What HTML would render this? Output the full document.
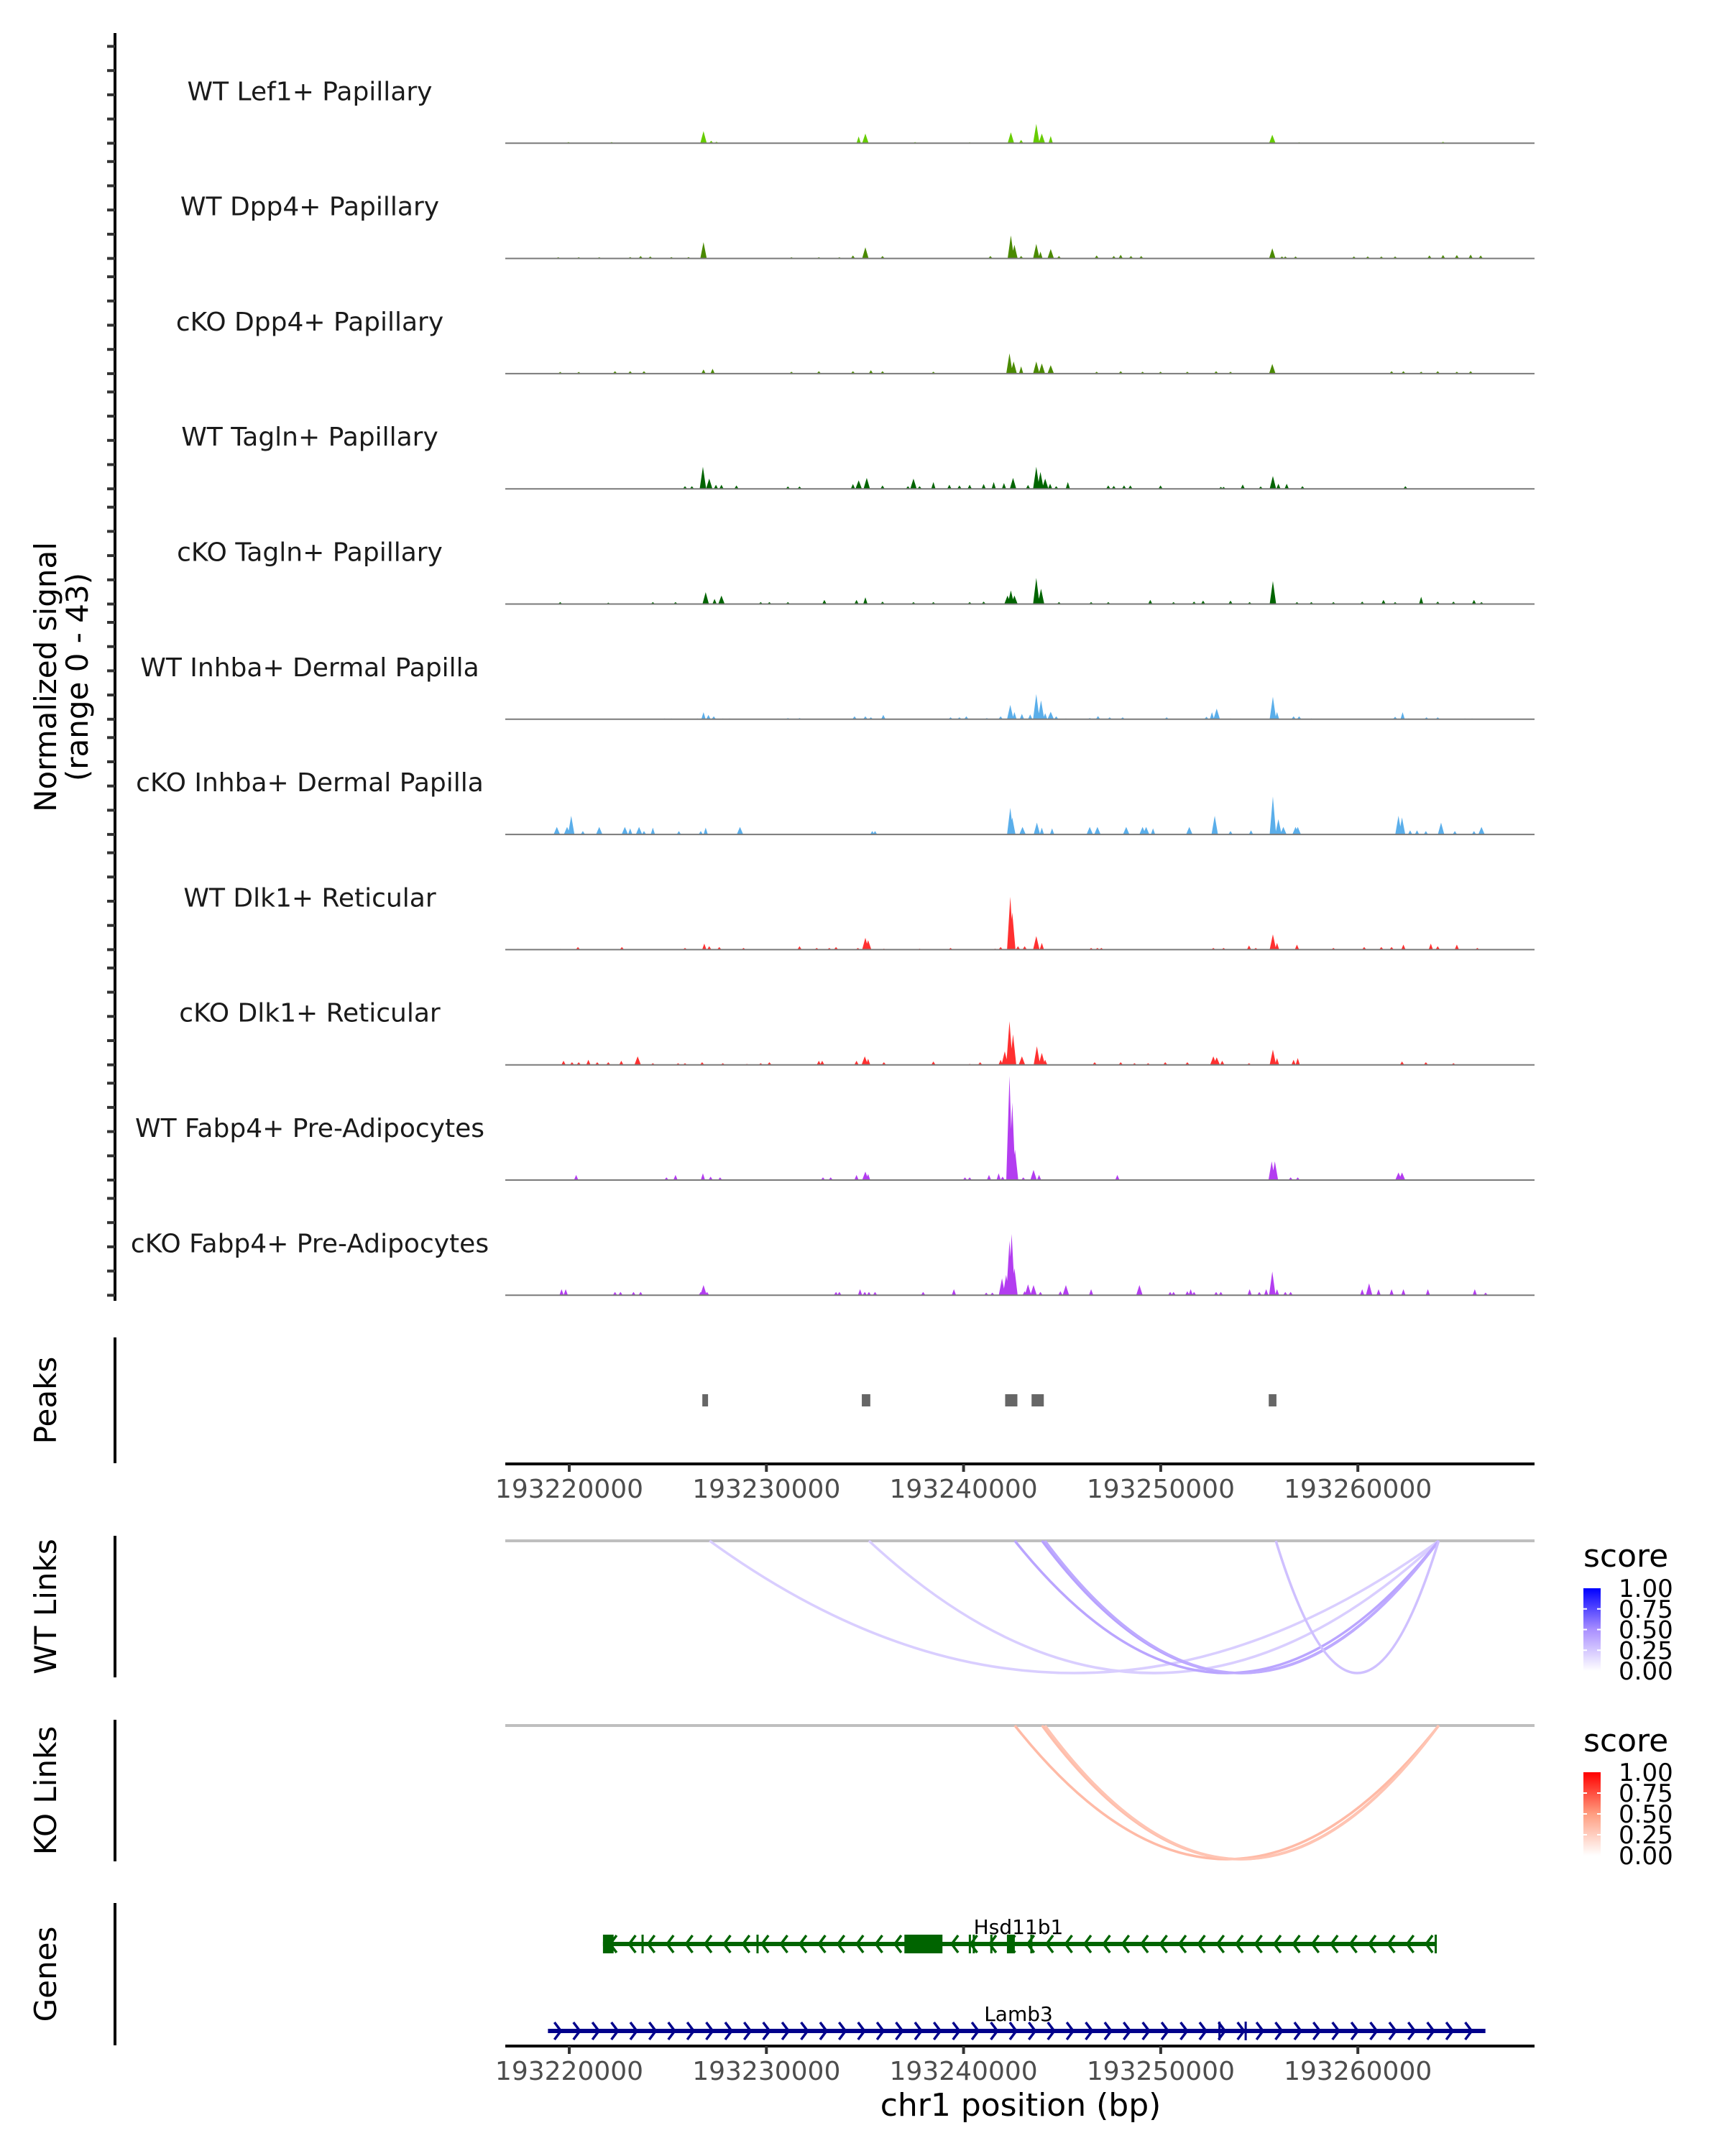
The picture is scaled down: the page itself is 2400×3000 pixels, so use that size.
<!DOCTYPE html>
<html><head><meta charset="utf-8">
<style>
html,body{margin:0;padding:0;background:#fff;}
svg{display:block;font-family:"DejaVu Sans","Liberation Sans",sans-serif;}
</style></head>
<body>
<svg id="chart" xmlns="http://www.w3.org/2000/svg" width="2400" height="3000" viewBox="0 0 2400 3000">
<rect x="0" y="0" width="2400" height="3000" fill="#fff"/>
<g id="tracks"></g>
<g id="axes"></g>
<g id="peaks"></g>
<g id="links"></g>
<g id="genes"></g>
<g id="legend"></g>
</svg>
<script>
// ---- data (positions in kb offset from 193220000, heights in normalized signal units) ----
const trackNames = ["WT Lef1+ Papillary","WT Dpp4+ Papillary","cKO Dpp4+ Papillary","WT Tagln+ Papillary","cKO Tagln+ Papillary","WT Inhba+ Dermal Papilla","cKO Inhba+ Dermal Papilla","WT Dlk1+ Reticular","cKO Dlk1+ Reticular","WT Fabp4+ Pre-Adipocytes","cKO Fabp4+ Pre-Adipocytes"];
const trackColors = ["#66cc00","#4a8a00","#4a8a00","#006400","#006400","#5aaeea","#5aaeea","#ff3030","#ff3030","#b33df0","#b33df0"];
const sigLef1 = [[6.81,5],[7.2,1],[7.47,0.6],[14.68,2.8],[15.02,4],[22.4,4.5],[22.92,1.4],[23.69,8],[23.97,4],[24.42,3],[35.66,3.5],[-0.04,0.5],[2.15,0.5],[17.54,0.5],[20.31,0.4],[37.02,0.4],[44.32,0.6]];
const sigDpp4WT = [[6.81,6.7],[15.02,4.6],[22.4,9.5],[22.58,5.6],[23.69,6],[23.9,2.8],[24.42,3.9],[35.66,4.2],[36.32,0.8],[-0.56,0.5],[0.48,0.5],[1.52,0.5],[3.09,0.6],[3.62,1],[4.11,0.8],[5.18,0.6],[6.05,0.6],[11.27,0.5],[12.66,0.5],[13.7,0.5],[14.39,1.2],[15.89,1],[21.36,1],[22.92,1],[24.84,1],[26.75,1.2],[27.62,1],[27.97,1.5],[28.49,1],[29.01,1],[36.15,0.8],[36.84,0.8],[39.8,0.8],[40.5,0.8],[41.19,0.8],[41.89,0.8],[43.63,1.2],[44.32,1.4],[45.02,1.4],[45.72,1.6],[46.23,1.2]];
const sigDpp4KO = [[22.33,8.4],[22.54,5],[22.92,3],[23.69,5],[23.97,4.2],[24.42,3.5],[35.66,4],[6.81,1.7],[7.27,2],[-0.46,0.7],[0.48,0.7],[2.32,1],[3.09,1],[3.79,1],[11.27,0.8],[12.66,1],[14.39,1],[15.3,1.4],[15.89,1],[18.47,0.8],[26.75,0.8],[27.97,1],[29.08,0.8],[29.99,0.8],[31.35,0.8],[32.81,1],[33.54,0.8],[41.71,1],[42.31,1],[43.21,0.8],[44.05,1],[45.02,0.8],[45.72,1]];
const sigTaglnWT = [[6.78,9.1],[7.1,4.2],[7.44,1.7],[7.72,1.7],[8.48,1.4],[5.87,1.1],[6.22,1.1],[11.09,1],[11.68,1],[14.39,2],[14.68,3.5],[15.09,4.5],[15.89,1.4],[17.18,1.1],[17.46,4.2],[17.77,1.1],[18.47,2.8],[19.28,1.7],[19.79,1.4],[20.31,1.7],[21.02,2],[21.53,2.8],[22.05,2.4],[22.51,4.5],[23.27,1.6],[23.69,9.1],[23.9,7],[24.14,4.2],[24.39,2.1],[24.7,1.1],[25.29,2.8],[27.34,1.4],[27.62,1.2],[28.14,1.4],[28.46,1.4],[29.99,1.4],[33.05,0.8],[33.19,0.8],[34.16,1.8],[35.07,1],[35.69,5.3],[35.97,2.1],[36.39,2.1],[37.19,1.1],[42.41,1.1]];
const sigTaglnKO = [[23.69,10.8],[23.93,6.3],[22.4,5.6],[22.23,3.5],[22.58,3.5],[35.69,9.5],[6.92,4.9],[7.72,3.5],[7.37,2.1],[15.02,2.8],[14.57,1.7],[12.94,1.7],[29.47,1.7],[32.15,1.4],[33.54,1.4],[41.3,1.7],[43.21,3],[45.89,1.7],[-0.46,0.8],[1.98,0.6],[4.24,0.8],[5.39,0.8],[9.71,0.8],[10.15,0.8],[11.09,0.8],[15.89,1],[17.46,0.8],[18.47,0.8],[20.31,0.8],[21.02,1],[24.84,0.8],[26.47,0.8],[27.34,0.8],[30.65,0.8],[31.69,1],[34.51,0.8],[36.91,0.8],[37.64,0.8],[38.76,0.8],[40.22,1],[41.89,0.8],[44.05,1],[44.85,1],[46.27,0.8]];
const sigInhbaWT = [[6.81,2.9],[7.06,1.8],[7.33,1.2],[4.83,0.3],[5.18,0.3],[6.5,0.3],[7.79,0.3],[8.13,0.3],[11.09,0.5],[11.68,0.5],[14.47,1.2],[15.02,1.2],[15.3,0.8],[15.93,1.8],[19.34,0.8],[19.79,0.8],[20.14,1.2],[21.18,0.5],[21.88,1.2],[22.37,5.9],[22.58,3],[22.96,2.2],[23.38,2],[23.69,10.4],[23.93,7.8],[24.14,2.5],[24.42,3.1],[24.7,1.2],[25.19,0.3],[26.4,0.5],[26.82,1.3],[27.41,0.8],[28.07,0.8],[30.3,0.8],[32.32,1],[32.6,2.9],[32.84,4.4],[33.54,0.3],[35.69,9.3],[35.9,3],[36.74,1.2],[37.02,1.2],[37.64,0.3],[41.89,1],[42.27,2.9],[42.58,0.3],[43.48,0.8],[44.05,0.8],[45.43,0.3],[45.79,0.3]];
const sigInhbaKO = [[-0.63,3.1],[-0.11,3.1],[0.1,7.7],[0.69,1.4],[1.52,3.1],[2.82,3.1],[3.09,2.5],[3.54,3.1],[3.79,1.4],[4.24,2.8],[5.56,1.4],[6.67,1.4],[6.92,2.8],[8.66,3.1],[15.37,1.4],[15.51,1.4],[22.37,11],[22.47,7],[22.99,3.1],[23.72,4.9],[23.97,2.8],[24.49,2.5],[26.4,3.1],[26.79,3.1],[28.25,3.1],[29.08,3.1],[29.26,3.1],[29.61,2.5],[31.45,3.1],[32.74,7.7],[33.54,1.4],[34.58,1.7],[35.69,15.7],[35.97,6.3],[36.22,3.1],[36.84,3.1],[36.95,3.1],[42.06,7.7],[42.24,7],[42.65,1.7],[43.0,1.7],[43.45,1.4],[44.22,4.9],[44.92,1.4],[45.89,1.4],[46.27,3.1]];
const sigDlk1WT = [[-0.46,0.3],[0.44,1.1],[2.67,1.1],[5.87,0.7],[6.85,2.5],[7.1,1.4],[7.61,1.1],[8.84,0.7],[11.68,1.4],[12.55,0.7],[13.19,0.7],[13.53,1.1],[14.64,0.7],[15.02,4.9],[15.16,3.9],[15.96,0.4],[17.77,0.4],[19.34,0.7],[21.6,0.4],[21.88,1.1],[22.37,21.8],[22.47,15.4],[22.76,1.4],[23.1,1.4],[23.69,5.6],[23.97,2.8],[26.47,0.7],[26.79,0.7],[26.99,0.7],[32.67,0.7],[33.19,0.7],[34.48,1.7],[34.82,0.7],[35.69,6.3],[35.9,2.8],[36.91,2.1],[38.76,0.7],[40.32,1.1],[41.19,1.1],[41.71,1.1],[42.31,2.1],[43.7,2.5],[44.05,1.4],[45.02,2.1],[46.06,0.7]];
const sigDlk1KO = [[-0.29,1.7],[0.14,1.1],[0.48,1.1],[0.97,2.1],[1.42,1.1],[1.98,1.1],[2.64,1.7],[3.47,3.5],[4.24,0.7],[5.52,0.7],[5.87,0.7],[6.74,1.1],[7.79,0.7],[9.01,0.4],[9.71,0.7],[10.15,1.1],[12.66,1.7],[12.83,1.7],[14.57,1.7],[14.99,3.5],[15.16,2.5],[15.96,1.1],[18.47,1.4],[20.31,0.4],[20.84,1.1],[21.88,2.1],[22.09,5.6],[22.33,18],[22.51,12.6],[22.96,3.5],[23.72,7.7],[23.97,4.9],[24.14,2.1],[26.65,1.1],[27.97,1.1],[28.67,0.7],[29.36,0.7],[30.23,1.1],[31.35,1.1],[32.67,3.5],[32.84,3.1],[33.12,1.7],[34.48,0.7],[35.69,6.3],[35.9,2.8],[36.74,2.1],[36.95,2.8],[42.24,1.4],[43.45,1.1],[44.85,0.7]];
const sigFabp4WT = [[0.35,2.1],[4.93,1.1],[5.39,2.1],[6.78,2.8],[7.17,1.4],[7.65,1.1],[12.87,1.1],[13.26,1.1],[14.57,2.1],[15.02,3.5],[15.16,2.5],[20.07,1.1],[20.31,1.1],[21.29,2.1],[21.78,2.8],[21.98,1.4],[22.33,43],[22.47,32],[22.61,12.6],[23.03,1.1],[23.55,4.2],[23.83,2.1],[27.8,2.1],[35.63,7.7],[35.79,7.7],[36.59,1.1],[36.95,1.1],[42.06,3.1],[42.24,3.1]];
const sigFabp4KO = [[-0.39,2.5],[-0.18,2.5],[2.32,1.4],[2.6,1.4],[3.26,1.4],[3.62,1.4],[6.67,1.4],[6.81,4.2],[6.99,1.4],[13.53,1.4],[13.7,1.4],[14.75,2.5],[14.99,1.4],[15.2,1.4],[15.51,1.4],[17.95,1.4],[19.51,2.5],[21.15,1.1],[21.46,1.1],[21.95,7],[22.16,8.4],[22.33,22.5],[22.44,25.3],[22.58,11.2],[23.1,1.7],[23.27,4.5],[23.55,4.2],[23.9,1.4],[24.91,1.7],[25.19,4.2],[26.47,2.5],[28.92,4.2],[30.48,1.4],[30.65,1.4],[31.35,1.7],[31.52,2.5],[31.69,1.4],[32.81,1.4],[33.05,1.4],[34.51,2.5],[35.0,1.4],[35.35,2.5],[35.66,9.8],[35.9,2.5],[36.32,1.4],[36.59,1.4],[40.22,2.5],[40.57,4.9],[41.05,2.5],[41.71,2.5],[42.31,2.5],[43.55,2.5],[45.93,2.5],[46.48,1.1]];
const trackSignals = [sigLef1,sigDpp4WT,sigDpp4KO,sigTaglnWT,sigTaglnKO,sigInhbaWT,sigInhbaKO,sigDlk1WT,sigDlk1KO,sigFabp4WT,sigFabp4KO];
const xTickValues = [193220000,193230000,193240000,193250000,193260000];
const yTickValues = [0,10,20,30,40];
const peakStarts = [6.75,14.84,22.11,23.45,35.48];
const peakEnds = [7.04,15.27,22.73,24.07,35.87];
const wtLinkStarts = [7.12,15.2,22.6,23.98,24.13,35.84];
const wtLinkEnds = [44.1,44.1,44.1,44.1,44.1,44.1];
const wtLinkScores = [0.22,0.22,0.4,0.42,0.38,0.28];
const koLinkStarts = [22.6,23.98,24.13];
const koLinkEnds = [44.1,44.1,44.1];
const koLinkScores = [0.35,0.33,0.3];
const legendTicks = ["1.00","0.75","0.50","0.25","0.00"];

// ---- scales ----
const ORIGIN = 193220000;
const X_LEFT = 703, X_RIGHT = 2135;
function xKb(kb){ return 792 + kb*27.43; }
function xBp(bp){ return xKb((bp-ORIGIN)/1000); }
function base(i){ return 199.3 + i*160.3; }
const UNIT = 3.37;
function yVal(i,v){ return base(i) - v*UNIT; }
const NS="http://www.w3.org/2000/svg";
function mk(tag, attrs, parent){ const e=document.createElementNS(NS,tag); for(const k in attrs) e.setAttribute(k,attrs[k]); parent.appendChild(e); return e; }
function lerpHex(a,b,t){ const pa=[1,3,5].map(j=>parseInt(a.substr(j,2),16)), pb=[1,3,5].map(j=>parseInt(b.substr(j,2),16)); return "rgb("+pa.map((v,k)=>Math.round(v+(pb[k]-v)*t)).join(",")+")"; }
function blueScale(s){ return s<0.5? lerpHex("#ffffff","#a98fff",s/0.5) : lerpHex("#a98fff","#0000ff",(s-0.5)/0.5); }
function redScale(s){ return s<0.5? lerpHex("#ffffff","#ff9d80",s/0.5) : lerpHex("#ff9d80","#ff0000",(s-0.5)/0.5); }

const gT=document.getElementById('tracks');
const gA=document.getElementById('axes');
// ---- signal tracks ----
trackNames.forEach((name,i)=>{
  const g=mk('g',{},gT);
  
  
  const lbl=mk('text',{x:431,y:base(i)-60,'font-size':36,'text-anchor':'middle',fill:'#1a1a1a'},g);
  lbl.textContent=name;
  
  
  const sig=trackSignals[i];
  let d='';
  sig.forEach(p=>{
    const x=xKb(p[0]); const hw=p[1]>3?4.5:3;
    d+='M'+(x-hw)+','+base(i)+'L'+x+','+yVal(i,p[1])+'L'+(x+hw)+','+base(i)+'Z';
  });
  const area=mk('path',{d:d,fill:trackColors[i]},g);
  
  
  const bl=mk('line',{x1:X_LEFT,x2:X_RIGHT,y1:base(i),y2:base(i),stroke:'#7a7a7a','stroke-width':2},g);
  
  
});
// left y axis
const ya=mk('line',{x1:160,x2:160,y1:46,y2:1810,stroke:'#000','stroke-width':4},gA);


for(let i=0;i<trackNames.length;i++){
  yTickValues.forEach(v=>{
    const t=mk('line',{x1:149,x2:160,y1:yVal(i,v),y2:yVal(i,v),stroke:'#333','stroke-width':4},gA);
    
    
  });
}
const yt=mk('text',{transform:'translate(86,942) rotate(-90)','font-size':42,'text-anchor':'middle',fill:'#000'},gA);


const ts1=mk('tspan',{x:0,dy:-8},yt); ts1.textContent='Normalized signal';
const ts2=mk('tspan',{x:0,dy:44},yt); ts2.textContent='(range 0 - 43)';

// panel axes & titles
const panels=[["Peaks",1861,2036],["WT Links",2137,2334],["KO Links",2393,2590],["Genes",2648,2846]];
panels.forEach(p=>{
  const l=mk('line',{x1:160,x2:160,y1:p[1],y2:p[2],stroke:'#000','stroke-width':4},gA);
  
  
  const c=(p[1]+p[2])/2;
  const t=mk('text',{transform:'translate(78,'+c+') rotate(-90)','font-size':42,'text-anchor':'middle',fill:'#000'},gA);
  t.textContent=p[0];
  
  
});
// x axes
function xAxis(y,name,withTitle){
  const l=mk('line',{x1:X_LEFT,x2:X_RIGHT,y1:y,y2:y,stroke:'#000','stroke-width':4},gA);
  
  
  xTickValues.forEach(v=>{
    const t=mk('line',{x1:xBp(v),x2:xBp(v),y1:y,y2:y+11,stroke:'#333','stroke-width':4},gA);
    
    
    const tx=mk('text',{x:xBp(v),y:y+47,'font-size':36,'text-anchor':'middle',fill:'#4d4d4d'},gA);
    tx.textContent=String(v);
    
    
  });
  if(withTitle){
    const tt=mk('text',{x:1420,y:y+97,'font-size':44,'text-anchor':'middle',fill:'#000'},gA);
    tt.textContent='chr1 position (bp)';
    
    
  }
}
xAxis(2037,'peaks-x-axis',false);
xAxis(2847,'x-axis',true);

// peaks
const gP=document.getElementById('peaks');
peakStarts.forEach((s,k)=>{
  const r=mk('rect',{x:xKb(s),y:1940,width:xKb(peakEnds[k])-xKb(s),height:17,fill:'#666'},gP);
  
  
});

// links
const gL=document.getElementById('links');
function linkPanel(top,depth,starts,ends,scores,scale,name){
  const l=mk('line',{x1:X_LEFT,x2:X_RIGHT,y1:top,y2:top,stroke:'#bfbfbf','stroke-width':4},gL);
  
  
  starts.forEach((s,k)=>{
    const x1=xKb(s), x2=xKb(ends[k]), mx=(x1+x2)/2;
    const p=mk('path',{d:'M'+x1+','+top+' Q'+mx+','+(top+2*depth)+' '+x2+','+top,fill:'none',stroke:scale(scores[k]),'stroke-width':3.5},gL);
    
    
  });
}
linkPanel(2144,184,wtLinkStarts,wtLinkEnds,wtLinkScores,blueScale,'wt-link');
linkPanel(2401,186,koLinkStarts,koLinkEnds,koLinkScores,redScale,'ko-link');

// genes
const gG=document.getElementById('genes');
function gene(y,startKb,endKb,color,dir,name,exons,ticks){
  const g=mk('g',{},gG);
  
  
  mk('line',{x1:xKb(startKb),x2:xKb(endKb),y1:y,y2:y,stroke:color,'stroke-width':6},g);
  let d='';
  for(let x=xKb(startKb)+14;x<xKb(endKb)-6;x+=26.4){
    d+= dir<0 ? 'M'+(x+5)+','+(y-12)+'L'+(x-4)+','+y+'L'+(x+5)+','+(y+12) : 'M'+(x-5)+','+(y-12)+'L'+(x+4)+','+y+'L'+(x-5)+','+(y+12);
  }
  mk('path',{d:d,fill:'none',stroke:color,'stroke-width':3.5},g);
  exons.forEach(e=>mk('rect',{x:xKb(e[0]),y:y-13,width:xKb(e[1])-xKb(e[0]),height:26,fill:color},g));
  ticks.forEach(t=>mk('line',{x1:xKb(t),x2:xKb(t),y1:y-13,y2:y+13,stroke:color,'stroke-width':3},g));
  const tx=mk('text',{x:1417,y:y-14,'font-size':28,'text-anchor':'middle',fill:'#000'},g);
  tx.textContent=name;
  
  
}
gene(2705,1.71,43.95,'#006400',-1,'Hsd11b1',[[1.71,2.25],[17.0,18.93],[22.2,22.6]],[3.72,9.55,20.32,20.52,21.41,23.44,43.95]);
gene(2826,-1.08,46.47,'#00008b',1,'Lamb3',[],[32.98,34.31]);

// legends
const gLg=document.getElementById('legend');
const defs=mk('defs',{},gLg);
function grad(id,scale){
  const lg=mk('linearGradient',{id:id,x1:0,y1:1,x2:0,y2:0},defs);
  [0,0.25,0.5,0.75,1].forEach(s=>mk('stop',{offset:s,'stop-color':scale(s)},lg));
}
grad('gb',blueScale); grad('gr',redScale);
function legend(titleY,barTop,barBot,gid,name){
  const g=mk('g',{},gLg);
  
  
  const t=mk('text',{x:2203,y:titleY,'font-size':44,fill:'#000'},g); t.textContent='score';
  mk('rect',{x:2203,y:barTop,width:24,height:barBot-barTop,fill:'url(#'+gid+')'},g);
  legendTicks.forEach((lab,k)=>{
    const yy=barTop+(barBot-barTop)*k/4;
    if(k>0&&k<4){ mk('line',{x1:2203,x2:2208,y1:yy,y2:yy,stroke:'#fff','stroke-width':2},g); mk('line',{x1:2222,x2:2227,y1:yy,y2:yy,stroke:'#fff','stroke-width':2},g); }
    const tx=mk('text',{x:2252,y:yy+12,'font-size':34,fill:'#000'},g); tx.textContent=lab;
  });
}
legend(2180,2210,2325,'gb','wt-score-legend');
legend(2437,2466,2582,'gr','ko-score-legend');
</script>
</body></html>
